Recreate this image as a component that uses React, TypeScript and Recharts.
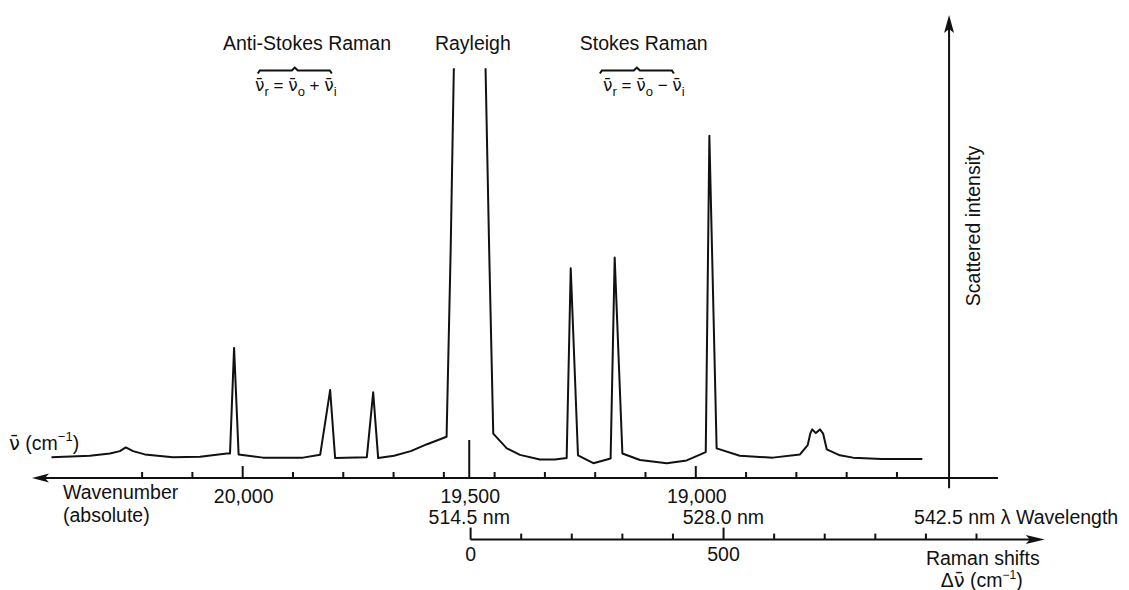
import React from 'react';
import { ComposedChart, Line, XAxis, YAxis, ReferenceLine, ReferenceDot } from 'recharts';

// spectrum: absolute wavenumber (cm-1) vs scattered intensity (arb. 0-100)
const wavenumber = [20422, 20337, 20293, 20271, 20258, 20242, 20216, 20154, 20094, 20035, 20028, 20019, 20009, 19955, 19867, 19829, 19807, 19796, 19726, 19712, 19701, 19666, 19629, 19593, 19550, 19541, 19534, 19500, 19464, 19456, 19447, 19417, 19388, 19344, 19311, 19285, 19276, 19260, 19226, 19188, 19179, 19162, 19123, 19064, 19020, 18978, 18970, 18954, 18903, 18830, 18770, 18753, 18747, 18743, 18735, 18726, 18719, 18711, 18682, 18653, 18590, 18500];
const intensity = [4.5, 4.8, 5.3, 5.8, 6.6, 5.8, 5.1, 4.5, 4.6, 5.3, 5.3, 28.1, 5.1, 4.4, 4.4, 5.0, 19.0, 4.3, 4.5, 18.5, 4.3, 4.8, 5.8, 7.3, 8.9, 49.2, 88.5, null, 88.5, 49.2, 9.6, 6.4, 5.0, 4.0, 4.0, 4.3, 45.3, 4.9, 3.2, 4.2, 47.6, 5.3, 3.9, 3.2, 3.8, 5.6, 73.9, 6.4, 4.8, 4.4, 5.1, 7.1, 9.7, 10.5, 9.7, 10.5, 9.6, 6.2, 4.9, 4.4, 4.1, 4.1];

// wavenumber axis
const wnMinorTicks = [20222, 20111, 19889, 19778, 19667, 19556, 19444, 19333, 19222, 19111, 18889, 18778, 18667, 18556];
const wnMajorTicks = [20000, 19500, 19000];
const wavelengthNm = [514.5, 528.0, 542.5];
const wavelengthAt = [19500, 18939, 18441];

// raman shift axis
const ramanTicks = [0, 100, 200, 300, 400, 500, 600, 700, 800, 900, 1000];
const ramanLabels = [0, 500];

// annotations
const regionNames = ['Anti-Stokes Raman', 'Rayleigh', 'Stokes Raman'];
const regionAt = [19858, 19492, 19115];
const braceAt = [19885, 19130];
const braceSigns = ['+', '\u2212'];

const wnDomain = [18333, 20465];
const shiftDomain = [-867, 1042.5];
const shiftAxisEnd = 1135;
const intensityAxisAt = 18441;
const RAMAN_Y = -13.3;

const data = wavenumber.map((w, i) => ({ wavenumber: w, intensity: intensity[i] }));
const wnTicks = Array.from(new Set([...wnMinorTicks, ...wnMajorTicks, ...wavelengthAt])).sort((a, b) => b - a);

const FONT = '"Liberation Sans", Arial, Helvetica, sans-serif';
const INK = '#111';
const FS = 19.5;

// nu with a macron (DejaVu places the combining mark properly)
const Nu = () => <tspan fontFamily='"DejaVu Sans", "Noto Sans", sans-serif'>{'\u03BD\u0304'}</tspan>;

const makeWnTick = (v: number) => ({ cx, cy }: any) => {
  const x = cx;
  const y = cy;
  const out: any[] = [];
  if (wnMinorTicks.includes(v)) out.push(<line key="t" x1={x} x2={x} y1={y} y2={y - 6} stroke={INK} strokeWidth={2} />);
  if (v === 19500) out.push(<line key="m" x1={x} x2={x} y1={y} y2={y - 38} stroke={INK} strokeWidth={2} />);
  else if (wnMajorTicks.includes(v)) out.push(<line key="M" x1={x} x2={x} y1={y} y2={y - 12} stroke={INK} strokeWidth={2} />);
  if (wnMajorTicks.includes(v)) {
    out.push(<text key="l" x={x + 1} y={y + 18} textAnchor="middle" dominantBaseline="central" fontSize={FS} fontFamily={FONT} fill={INK}>{v.toLocaleString('en-US')}</text>);
  }
  const wi = wavelengthAt.indexOf(v);
  if (wi >= 0) {
    const last = wi === wavelengthAt.length - 1;
    out.push(
      <text key="n" x={last ? x - 35 : x} y={y + 39} textAnchor={last ? 'start' : 'middle'} dominantBaseline="central" fontSize={FS} fontFamily={FONT} fill={INK}>
        {`${wavelengthNm[wi].toFixed(1)} nm` + (last ? ' \u03BB Wavelength' : '')}
      </text>
    );
  }
  return <g>{out}</g>;
};

const WnAxisLine = ({ x1, y1, x2 }: any) => {
  const left = Math.min(x1, x2);
  const right = Math.max(x1, x2);
  return (
    <g>
      <line x1={left + 12} x2={right} y1={y1} y2={y1} stroke={INK} strokeWidth={2} />
      <polygon points={`${left},${y1} ${left + 17},${y1 - 4.5} ${left + 13},${y1} ${left + 17},${y1 + 4.5}`} fill={INK} />
      <text x={left - 23} y={y1 - 35} dominantBaseline="central" fontSize={FS} fontFamily={FONT} fill={INK}>
        <Nu /> (cm<tspan dy={-7} fontSize={13}>{'\u22121'}</tspan><tspan dy={7}>)</tspan>
      </text>
      <text x={left + 31} y={y1 + 14} dominantBaseline="central" fontSize={FS} fontFamily={FONT} fill={INK}>Wavenumber</text>
      <text x={left + 31} y={y1 + 37} dominantBaseline="central" fontSize={FS} fontFamily={FONT} fill={INK}>(absolute)</text>
    </g>
  );
};

const IntensityAxisLine = ({ x1, y1, y2 }: any) => {
  const top = Math.min(y1, y2);
  const bottom = Math.max(y1, y2);
  const cy = top + 211;
  return (
    <g>
      <line x1={x1} x2={x1} y1={top + 12} y2={bottom} stroke={INK} strokeWidth={2} />
      <polygon points={`${x1},${top} ${x1 - 5},${top + 18} ${x1},${top + 14} ${x1 + 5},${top + 18}`} fill={INK} />
      <text x={x1 + 24} y={cy} transform={`rotate(-90, ${x1 + 24}, ${cy})`} textAnchor="middle" dominantBaseline="central" fontSize={FS} fontFamily={FONT} fill={INK}>
        Scattered intensity
      </text>
    </g>
  );
};

const RamanAxisLine = ({ x1, y1, x2 }: any) => (
  <g>
    <line x1={x1} x2={x2 - 12} y1={y1} y2={y1} stroke={INK} strokeWidth={2} />
    <polygon points={`${x2},${y1} ${x2 - 19},${y1 - 4.5} ${x2 - 15},${y1} ${x2 - 19},${y1 + 4.5}`} fill={INK} />
    <text x={x2 - 62} y={y1 + 18} textAnchor="middle" dominantBaseline="central" fontSize={FS} fontFamily={FONT} fill={INK}>Raman shifts</text>
    <text x={x2 - 63} y={y1 + 40} textAnchor="middle" dominantBaseline="central" fontSize={FS} fontFamily={FONT} fill={INK}>
      {'\u0394'}<Nu /> (cm<tspan dy={-5} fontSize={12}>{'\u22121'}</tspan><tspan dy={5}>)</tspan>
    </text>
  </g>
);

const makeRamanTick = (value: number) => ({ cx, cy }: any) => {
  const big = ramanLabels.includes(value);
  return (
    <g>
      <line x1={cx} x2={cx} y1={cy} y2={cy - (big ? 12 : 6)} stroke={INK} strokeWidth={2} />
      {big && (
        <text x={cx} y={cy + 14} textAnchor="middle" dominantBaseline="central" fontSize={FS} fontFamily={FONT} fill={INK}>{value}</text>
      )}
    </g>
  );
};

const makeRegionLabel = (name: string) => ({ cx, cy }: any) => (
  <text x={cx} y={cy} textAnchor="middle" dominantBaseline="central" fontSize={FS} fontFamily={FONT} fill={INK}>{name}</text>
);

const makeBrace = (sign: string, i: number) => ({ cx, cy }: any) => {
  const fx = cx + (i === 0 ? 1 : 7);
  return (
    <g>
      <path
        d={`M${cx - 37},${cy + 3} L${cx - 35},${cy} L${cx - 3},${cy} L${cx},${cy - 3} L${cx + 3},${cy} L${cx + 35},${cy} L${cx + 37},${cy + 3}`}
        fill="none" stroke={INK} strokeWidth={2}
      />
      <text x={fx} y={cy + 20} textAnchor="middle" fontSize={17} fontFamily={FONT} fill={INK}>
        <Nu /><tspan dy={5} fontSize={13}>r</tspan><tspan dy={-5}>{' = '}</tspan><Nu /><tspan dy={5} fontSize={13}>o</tspan>
        <tspan dy={-5}>{` ${sign} `}</tspan><Nu /><tspan dy={5} fontSize={13}>i</tspan>
      </text>
    </g>
  );
};

export default function App() {
  return (
    <div style={{ position: 'absolute', left: 0, top: 0, background: '#fff', fontFamily: FONT }}>
      <ComposedChart width={1129} height={590} data={data} margin={{ top: 15, right: 131, bottom: 112, left: 32 }}>
        <XAxis xAxisId="wn" dataKey="wavenumber" type="number" scale="linear" domain={wnDomain} reversed allowDataOverflow hide />
        <XAxis xAxisId="shift" dataKey="wavenumber" type="number" scale="linear" domain={shiftDomain} allowDataOverflow hide />
        <YAxis yAxisId="i" type="number" domain={[0, 100]} allowDataOverflow hide />

        <ReferenceLine xAxisId="wn" yAxisId="i" ifOverflow="visible" segment={[{ x: wnDomain[1], y: 0 }, { x: wnDomain[0], y: 0 }]} shape={WnAxisLine} />
        {wnTicks.map((t) => (
          <ReferenceDot key={`w${t}`} xAxisId="wn" yAxisId="i" x={t} y={0} r={0} ifOverflow="visible" shape={makeWnTick(t)} />
        ))}
        <ReferenceLine xAxisId="wn" yAxisId="i" ifOverflow="visible" segment={[{ x: intensityAxisAt, y: -2.2 }, { x: intensityAxisAt, y: 100 }]} shape={IntensityAxisLine} />
        <ReferenceLine xAxisId="shift" yAxisId="i" ifOverflow="visible" segment={[{ x: 0, y: RAMAN_Y }, { x: shiftAxisEnd, y: RAMAN_Y }]} shape={RamanAxisLine} />
        {ramanTicks.map((t) => (
          <ReferenceDot key={`r${t}`} xAxisId="shift" yAxisId="i" x={t} y={RAMAN_Y} r={0} ifOverflow="visible" shape={makeRamanTick(t)} />
        ))}
        {regionNames.map((n, i) => (
          <ReferenceDot key={n} xAxisId="wn" yAxisId="i" x={regionAt[i]} y={94} r={0} ifOverflow="visible" shape={makeRegionLabel(n)} />
        ))}
        {braceAt.map((b, i) => (
          <ReferenceDot key={`b${i}`} xAxisId="wn" yAxisId="i" x={b} y={88} r={0} ifOverflow="visible" shape={makeBrace(braceSigns[i], i)} />
        ))}

        <Line
          xAxisId="wn"
          yAxisId="i"
          dataKey="intensity"
          type="linear"
          stroke={INK}
          strokeWidth={2}
          strokeLinejoin="round"
          dot={false}
          activeDot={false}
          isAnimationActive={false}
        />
      </ComposedChart>
    </div>
  );
}
